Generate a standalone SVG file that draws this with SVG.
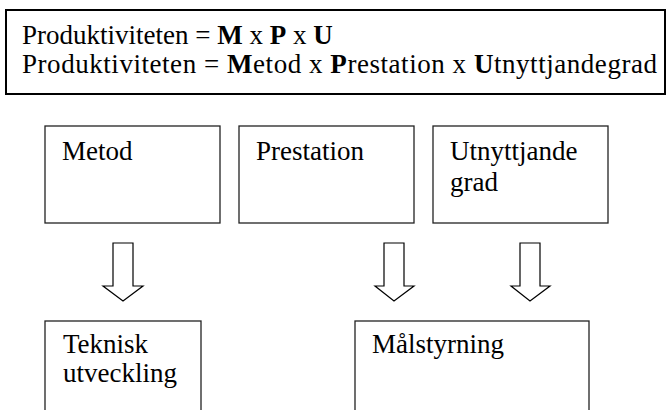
<svg xmlns="http://www.w3.org/2000/svg" width="666" height="410" viewBox="0 0 666 410">
<style>
text{font-family:"Liberation Serif","Times New Roman",serif;font-size:27px;fill:#000}
.b{font-weight:bold}
.box{fill:#fff;stroke:#222;stroke-width:1.3}
.top{fill:#fff;stroke:#000;stroke-width:2}
.arr{fill:#fff;stroke:#000;stroke-width:1.2;stroke-linejoin:miter}
</style>
<rect width="666" height="410" fill="#fff"/>
<g id="formula">
<rect class="top" x="6" y="10" width="659" height="84"/>
<text x="22" y="44">Produktiviteten = <tspan class="b">M</tspan> x <tspan class="b">P</tspan> x <tspan class="b">U</tspan></text>
<text x="22" y="73" textLength="635" lengthAdjust="spacing">Produktiviteten = <tspan class="b">M</tspan>etod x <tspan class="b">P</tspan>restation x <tspan class="b">U</tspan>tnyttjandegrad</text>
</g>
<g id="metod">
<rect class="box" x="45" y="126" width="175" height="97"/>
<text x="62" y="160">Metod</text>
</g>
<g id="prestation">
<rect class="box" x="239" y="126" width="175" height="97"/>
<text x="256" y="160">Prestation</text>
</g>
<g id="utnyttjandegrad">
<rect class="box" x="433" y="126" width="175" height="97"/>
<text x="450" y="160">Utnyttjande</text>
<text x="450" y="191">grad</text>
</g>
<g id="teknisk">
<rect class="box" x="45" y="321" width="156" height="100"/>
<text x="63" y="353">Teknisk</text>
<text x="63" y="382">utveckling</text>
</g>
<g id="malstyrning">
<rect class="box" x="355" y="321" width="234" height="100"/>
<text x="372" y="353">Målstyrning</text>
</g>
<g id="connectors">
<polygon class="arr" points="113,243 133,243 133,286 143,286 123,301 103,286 113,286"/>
<polygon class="arr" points="384,243 404,243 404,286 414,286 394,301 375,286 384,286"/>
<polygon class="arr" points="520,243 540,243 540,286 550,286 530,301 511,286 520,286"/>
</g>
</svg>
